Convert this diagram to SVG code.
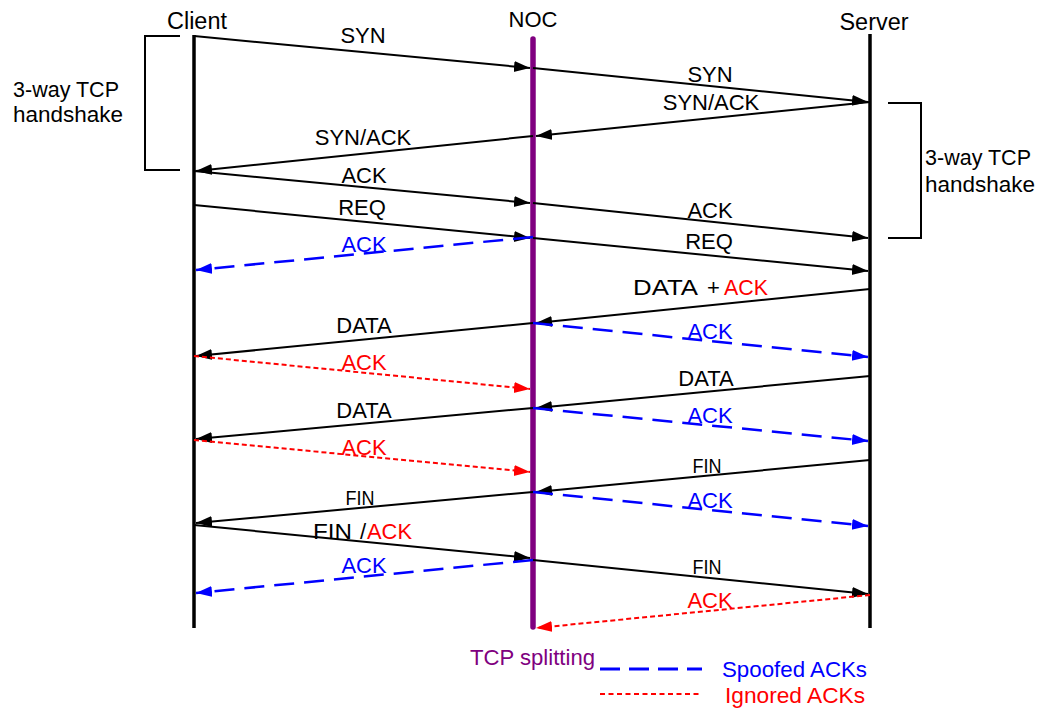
<svg xmlns="http://www.w3.org/2000/svg" width="1040" height="709" viewBox="0 0 1040 709">
<style>
text{font-family:"Liberation Sans",Arial,sans-serif;font-size:22px;fill:#000}
.h{font-size:23px}
.m{text-anchor:middle}
.f{font-size:21px}
.b{fill:#0000ff}
.r{fill:#ff0000}
.p{fill:#800080}
.msg{stroke:#000;stroke-width:2;fill:none;marker-end:url(#ak)}
.sp{stroke:#0000ff;stroke-width:2.5;fill:none;stroke-dasharray:20 10;marker-end:url(#ab)}
.ig{stroke:#ff0000;stroke-width:2;fill:none;stroke-dasharray:5 3;marker-end:url(#ar)}
.br{stroke:#000;stroke-width:2;fill:none}
</style>
<defs>
<marker id="ak" markerUnits="userSpaceOnUse" markerWidth="16" markerHeight="12" refX="16" refY="5.5" orient="auto"><path d="M0,0 L16,5.5 L0,11 z" fill="#000"/></marker>
<marker id="ab" markerUnits="userSpaceOnUse" markerWidth="16" markerHeight="12" refX="16" refY="5.5" orient="auto"><path d="M0,0 L16,5.5 L0,11 z" fill="#0000ff"/></marker>
<marker id="ar" markerUnits="userSpaceOnUse" markerWidth="16" markerHeight="12" refX="16" refY="5.5" orient="auto"><path d="M0,0 L16,5.5 L0,11 z" fill="#ff0000"/></marker>
</defs>
<rect width="1040" height="709" fill="#fff"/>
<g id="client">
<line x1="194" y1="35" x2="194" y2="628" stroke="#000" stroke-width="3.5"/>
<text class="h m" x="197" y="29" textLength="60" lengthAdjust="spacingAndGlyphs">Client</text>
</g>
<g id="noc">
<line x1="533" y1="39" x2="533" y2="627" stroke="#800080" stroke-width="5.5" stroke-linecap="round"/>
<text class="m" x="533" y="27">NOC</text>
</g>
<g id="server">
<line x1="870" y1="34" x2="870" y2="628" stroke="#000" stroke-width="3.5"/>
<text class="h m" x="874" y="30" textLength="69" lengthAdjust="spacingAndGlyphs">Server</text>
</g>
<g id="handshake-client">
<path class="br" d="M180,36 H145 V170 H180"/>
<text x="13" y="97" textLength="106" lengthAdjust="spacingAndGlyphs">3-way TCP</text>
<text x="13" y="122" textLength="110" lengthAdjust="spacingAndGlyphs">handshake</text>
</g>
<g id="handshake-server">
<path class="br" d="M888,103 H921 V238 H888"/>
<text x="925" y="165" textLength="106" lengthAdjust="spacingAndGlyphs">3-way TCP</text>
<text x="925" y="192" textLength="110" lengthAdjust="spacingAndGlyphs">handshake</text>
</g>
<g id="connectors">
<path class="msg" d="M194,36 L530,68"/>
<path class="msg" d="M533,68 L868,102"/>
<path class="msg" d="M870,102 L536,136"/>
<path class="msg" d="M533,136 L196,171"/>
<path class="msg" d="M194,171 L530,203"/>
<path class="msg" d="M194,205 L530,238"/>
<path class="msg" d="M533,203 L868,238"/>
<path class="msg" d="M533,238 L868,271"/>
<path class="sp" d="M533,237 L196,270"/>
<path class="msg" d="M870,289 L536,323"/>
<path class="msg" d="M533,323 L196,356"/>
<path class="sp" d="M533,323 L868,357"/>
<path class="ig" d="M194,356 L530,389"/>
<path class="msg" d="M870,376 L536,408"/>
<path class="msg" d="M533,408 L196,439"/>
<path class="sp" d="M533,408 L868,441"/>
<path class="ig" d="M194,440 L530,472"/>
<path class="msg" d="M870,460 L536,492"/>
<path class="msg" d="M533,492 L196,523"/>
<path class="sp" d="M533,492 L868,526"/>
<path class="msg" d="M194,525 L530,558"/>
<path class="sp" d="M533,560 L196,593"/>
<path class="msg" d="M533,560 L868,594"/>
<path class="ig" d="M870,595 L536,628"/>
</g>
<g id="labels">
<text class="m" x="363" y="43">SYN</text>
<text class="m" x="710" y="82">SYN</text>
<text class="m" x="711" y="110">SYN/ACK</text>
<text class="m" x="363" y="145">SYN/ACK</text>
<text class="m" x="364" y="183">ACK</text>
<text class="m" x="362" y="215">REQ</text>
<text class="m" x="710" y="218">ACK</text>
<text class="m" x="709" y="249">REQ</text>
<text class="m b" x="364" y="252">ACK</text>
<text y="295"><tspan x="633" textLength="65" lengthAdjust="spacingAndGlyphs">DATA</tspan><tspan x="707">+</tspan><tspan class="r" x="724" textLength="44" lengthAdjust="spacingAndGlyphs">ACK</tspan></text>
<text class="m" x="364" y="333">DATA</text>
<text class="m b" x="710" y="339">ACK</text>
<text class="m r" x="364" y="370">ACK</text>
<text class="m" x="706" y="386">DATA</text>
<text class="m" x="364" y="418">DATA</text>
<text class="m b" x="710" y="423">ACK</text>
<text class="m r" x="364" y="455">ACK</text>
<text class="m f" x="707" y="473" textLength="29" lengthAdjust="spacingAndGlyphs">FIN</text>
<text class="m f" x="360" y="505" textLength="29" lengthAdjust="spacingAndGlyphs">FIN</text>
<text class="m b" x="710" y="508">ACK</text>
<text y="539"><tspan x="313" textLength="39" lengthAdjust="spacingAndGlyphs">FIN</tspan><tspan x="360">/</tspan><tspan class="r" x="367" textLength="45" lengthAdjust="spacingAndGlyphs">ACK</tspan></text>
<text class="m b" x="364" y="573">ACK</text>
<text class="m f" x="707" y="574" textLength="29" lengthAdjust="spacingAndGlyphs">FIN</text>
<text class="m r" x="710" y="608">ACK</text>
</g>
<g id="legend">
<text class="p" x="470" y="665" textLength="125" lengthAdjust="spacingAndGlyphs">TCP splitting</text>
<line x1="600" y1="669" x2="702" y2="669" stroke="#0000ff" stroke-width="3" stroke-dasharray="20 9"/>
<text class="b" x="722" y="677" textLength="145" lengthAdjust="spacingAndGlyphs">Spoofed ACKs</text>
<line x1="600" y1="694" x2="702" y2="694" stroke="#ff0000" stroke-width="2" stroke-dasharray="5 3.5"/>
<text class="r" x="725" y="703" textLength="140" lengthAdjust="spacingAndGlyphs">Ignored ACKs</text>
</g>
</svg>
